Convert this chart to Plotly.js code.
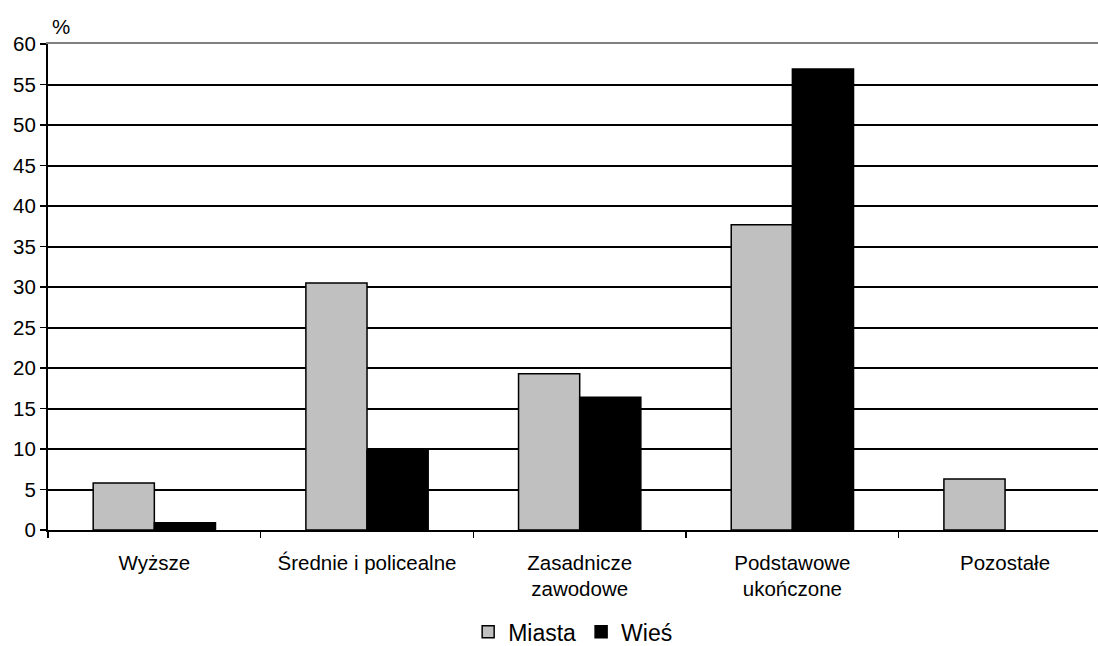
<!DOCTYPE html>
<html>
<head>
<meta charset="utf-8">
<script src="https://cdn.plot.ly/plotly-3.0.1.min.js"></script>
<style>html,body{margin:0;padding:0;background:#fff;}#chart{width:1098px;height:646px;}</style>
</head>
<body>
<div id="chart"></div>
<script>
const categories = ["Wyższe", "Średnie i policealne", "Zasadnicze<br>zawodowe", "Podstawowe<br>ukończone", "Pozostałe"];
const miasta = [5.8, 30.5, 19.3, 37.7, 6.3];
const wies = [0.9, 9.8, 16.4, 56.9, null];
const yTicks = [0, 5, 10, 15, 20, 25, 30, 35, 40, 45, 50, 55, 60];

const font = {family: "Liberation Sans, Arial, sans-serif", size: 20.5, color: "#000"};

const traces = [
  {type: "bar", name: "Miasta", x: categories, y: miasta,
   marker: {color: "#c0c0c0", line: {color: "#000", width: 1.5}}},
  {type: "bar", name: "Wieś", x: categories, y: wies,
   marker: {color: "#000", line: {color: "#000", width: 1.5}}},
  {type: "scatter", x: [null], y: [null], xaxis: "x2", yaxis: "y", showlegend: false, hoverinfo: "skip"}
];

const layout = {
  width: 1098, height: 646,
  margin: {l: 48, r: 0, t: 44, b: 116},
  paper_bgcolor: "#fff", plot_bgcolor: "#fff",
  font: font,
  barmode: "group", bargap: 0.425, bargroupgap: 0,
  showlegend: true,
  legend: {orientation: "h", x: 0.522, xanchor: "center", xref: "container",
           y: 0.022, yanchor: "middle", yref: "container",
           font: {family: font.family, size: 23, color: "#000"}, itemwidth: 30, tracegroupgap: 0},
  xaxis: {
    type: "category", range: [-0.5, 4.437],
    showline: true, linecolor: "#000", linewidth: 2,
    ticks: "outside", tickson: "boundaries", ticklen: 6, tickwidth: 1.5, tickcolor: "#000",
    showgrid: false, tickfont: font, ticklabelstandoff: 13, automargin: false
  },
  xaxis2: {
    overlaying: "x", side: "top", range: [0, 1], showline: true, linecolor: "#808080",
    linewidth: 2, showticklabels: false, ticks: "", showgrid: false, zeroline: false
  },
  yaxis: {
    range: [0, 60], tickvals: yTicks, ticktext: yTicks.map(String),
    showline: true, linecolor: "#000", linewidth: 2,
    ticks: "outside", ticklen: 6, tickwidth: 1.5, tickcolor: "#000",
    showgrid: true, gridcolor: "#000", gridwidth: 2, zeroline: false,
    tickfont: font, automargin: false
  },
  annotations: [
    {text: "%", xref: "paper", yref: "paper", x: 0.012, y: 1.0, yshift: 4, xanchor: "center", yanchor: "bottom",
     showarrow: false, font: font}
  ]
};

Plotly.newPlot("chart", traces, layout, {displayModeBar: false, staticPlot: true});
</script>
</body>
</html>
